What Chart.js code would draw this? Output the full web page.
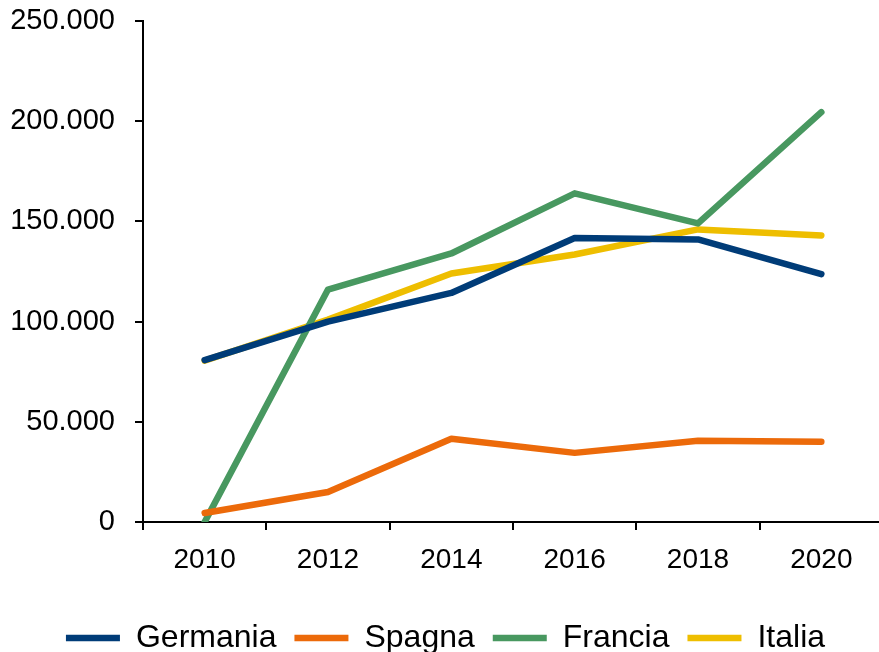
<!DOCTYPE html>
<html>
<head>
<meta charset="utf-8">
<script src="https://cdn.jsdelivr.net/npm/chart.js@4"></script>
<style>
  html, body { margin: 0; padding: 0; background: #fff; }
  #wrap { width: 879px; height: 652px; overflow: hidden; }
</style>
</head>
<body>
<div id="wrap">
  <canvas id="chart" width="905" height="652"></canvas>
</div>
<script>
const years = ["2010", "2012", "2014", "2016", "2018", "2020"];
const germania = [80800, 100000, 114300, 141700, 141000, 123700];
const spagna = [4500, 15000, 41500, 34500, 40500, 40000];
const francia = [0, 116000, 134000, 164000, 149000, 204500];
const italia = [80500, 101000, 124000, 133500, 146000, 143000];

const fontFamily = "'Liberation Sans', Arial, sans-serif";

function series(label, data, color) {
  return {
    label: label,
    data: data,
    borderColor: color,
    backgroundColor: color,
    borderWidth: 6.5,
    borderCapStyle: "round",
    borderJoinStyle: "round",
    pointRadius: 0,
    pointHoverRadius: 0,
    tension: 0,
    fill: false
  };
}

new Chart(document.getElementById("chart").getContext("2d"), {
  type: "line",
  data: {
    labels: years,
    datasets: [
      series("Germania", germania, "#003C78"),
      series("Spagna", spagna, "#EC6A0A"),
      series("Francia", francia, "#489860"),
      series("Italia", italia, "#EEBE00")
    ]
  },
  options: {
    responsive: false,
    animation: false,
    layout: { padding: { left: 8, right: 22, top: 21, bottom: -12 } },
    plugins: {
      tooltip: { enabled: false },
      legend: {
        position: "bottom",
        labels: {
          color: "#000",
          font: { family: fontFamily, size: 32 },
          usePointStyle: true,
          pointStyle: "line",
          pointStyleWidth: 54,
          padding: 18
        }
      }
    },
    scales: {
      x: {
        offset: true,
        afterFit: scale => { scale.height = 82; },
        grid: {
          offset: true,
          drawOnChartArea: false,
          color: "#000",
          lineWidth: 2,
          tickLength: 8
        },
        border: { color: "#000", width: 2 },
        ticks: {
          color: "#000",
          font: { family: fontFamily, size: 28 },
          padding: 13,
          maxRotation: 0
        }
      },
      y: {
        min: 0,
        max: 250000,
        afterFit: scale => { scale.width = 135; scale.paddingTop = 0; },
        grid: {
          drawOnChartArea: false,
          color: "#000",
          lineWidth: 2,
          tickLength: 8
        },
        border: { color: "#000", width: 2 },
        ticks: {
          stepSize: 50000,
          color: "#000",
          font: { family: fontFamily, size: 29 },
          padding: 20,
          callback: v => v.toLocaleString("it-IT")
        }
      }
    }
  }
});
</script>
</body>
</html>
